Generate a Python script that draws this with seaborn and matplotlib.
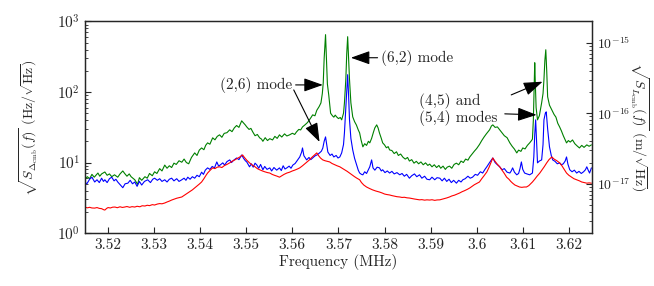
import matplotlib
matplotlib.use("Agg")
import matplotlib.pyplot as plt
import seaborn as sns
from matplotlib.ticker import LogLocator, FixedLocator, NullFormatter

# --- data (frequency in MHz, amplitude in Hz/sqrt(Hz)) ---
freq_green = [3.5149, 3.5155, 3.5160, 3.5165, 3.5170, 3.5178, 3.5182, 3.5186, 3.5193, 3.5198,
              3.5203, 3.5208, 3.5214, 3.5221, 3.5226, 3.5232, 3.5236, 3.5241, 3.5246, 3.5250,
              3.5258, 3.5264, 3.5268, 3.5273, 3.5280, 3.5285, 3.5290, 3.5296, 3.5301, 3.5306,
              3.5312, 3.5317, 3.5323, 3.5328, 3.5333, 3.5338, 3.5343, 3.5348, 3.5354, 3.5360,
              3.5365, 3.5370, 3.5375, 3.5381, 3.5388, 3.5393, 3.5398, 3.5403, 3.5408, 3.5412,
              3.5416, 3.5421, 3.5427, 3.5432, 3.5437, 3.5442, 3.5447, 3.5452, 3.5458, 3.5464,
              3.5469, 3.5474, 3.5479, 3.5484, 3.5490, 3.5494, 3.5498, 3.5501, 3.5506, 3.5510,
              3.5514, 3.5519, 3.5524, 3.5529, 3.5533, 3.5536, 3.5541, 3.5546, 3.5551, 3.5557,
              3.5562, 3.5567, 3.5572, 3.5577, 3.5583, 3.5588, 3.5594, 3.5600, 3.5605, 3.5609,
              3.5614, 3.5618, 3.5622, 3.5628, 3.5633, 3.5637, 3.5641, 3.5644, 3.5649, 3.5653,
              3.5658, 3.5662, 3.5665, 3.5667, 3.5669, 3.5672, 3.5674, 3.5676, 3.5679, 3.5683,
              3.5687, 3.5690, 3.5693, 3.5696, 3.5700, 3.5704, 3.5707, 3.5711, 3.5713, 3.5716,
              3.5718, 3.5720, 3.5722, 3.5724, 3.5727, 3.5731, 3.5735, 3.5739, 3.5743, 3.5746,
              3.5749, 3.5753, 3.5757, 3.5761, 3.5765, 3.5768, 3.5772, 3.5776, 3.5779, 3.5783,
              3.5786, 3.5789, 3.5793, 3.5796, 3.5800, 3.5804, 3.5808, 3.5811, 3.5816, 3.5821,
              3.5826, 3.5830, 3.5835, 3.5840, 3.5845, 3.5850, 3.5854, 3.5859, 3.5864, 3.5869,
              3.5874, 3.5879, 3.5884, 3.5889, 3.5894, 3.5898, 3.5903, 3.5908, 3.5913, 3.5918,
              3.5922, 3.5927, 3.5932, 3.5936, 3.5941, 3.5946, 3.5951, 3.5956, 3.5961, 3.5966,
              3.5971, 3.5976, 3.5981, 3.5985, 3.5990, 3.5995, 3.6000, 3.6006, 3.6011, 3.6016,
              3.6021, 3.6028, 3.6032, 3.6035, 3.6040, 3.6045, 3.6050, 3.6055, 3.6060, 3.6066,
              3.6072, 3.6077, 3.6082, 3.6087, 3.6091, 3.6096, 3.6100, 3.6105, 3.6110, 3.6115,
              3.6119, 3.6121, 3.6123, 3.6125, 3.6126, 3.6127, 3.6129, 3.6132, 3.6136, 3.6141,
              3.6144, 3.6146, 3.6148, 3.6150, 3.6152, 3.6154, 3.6158, 3.6163, 3.6168, 3.6172,
              3.6176, 3.6180, 3.6184, 3.6188, 3.6192, 3.6195, 3.6199, 3.6203, 3.6208, 3.6213,
              3.6218, 3.6223, 3.6228, 3.6233, 3.6239, 3.6244, 3.6249]
psd_green = [5.7, 6.3, 5.9, 6.8, 6.2, 7.1, 6.4, 6.9, 7.35, 6.6,
             6.9, 6.3, 6.7, 6.2, 6.9, 7.6, 7.0, 6.4, 6.9, 6.3,
             5.7, 4.9, 6.1, 5.6, 6.3, 6.0, 7.0, 6.5, 7.4, 7.0,
             8.2, 7.6, 9.2, 8.3, 9.0, 8.5, 9.8, 9.4, 10.6, 10.1,
             11.2, 10.0, 9.6, 11.8, 13.7, 12.6, 15.0, 16.1, 15.2, 17.6,
             19.0, 18.2, 22.4, 21.0, 23.5, 24.7, 22.8, 25.9, 26.5, 29.1,
             27.4, 31.0, 33.5, 31.5, 39.0, 36.5, 34.0, 32.0, 29.5, 30.5,
             27.2, 24.0, 25.0, 22.4, 21.5, 20.0, 22.5, 20.5, 21.8, 20.9,
             23.5, 22.0, 24.7, 23.0, 25.5, 23.8, 24.7, 26.0, 25.0, 27.2,
             29.5, 29.0, 32.0, 34.5, 37.0, 40.3, 44.0, 47.4, 46.0, 55.0,
             62.0, 70.0, 95, 135, 300, 650, 300, 130, 90, 50,
             46, 44, 47, 44.4, 42, 43.5, 40.3, 50, 70, 150,
             350, 608, 300, 150, 70.3, 44.4, 38, 34, 29, 26.3,
             21, 16.7, 18.5, 17.5, 20.0, 19.0, 22, 27, 31, 34.2,
             31, 26.3, 22, 19.0, 17.8, 16.2, 16.8, 15.1, 14.8, 13.4,
             14.2, 12.6, 13.2, 11.9, 11.2, 11.8, 10.5, 11.0, 9.8, 10.4,
             9.6, 10.2, 9.3, 9.9, 9.1, 9.5, 8.7, 9.3, 8.5, 9.1,
             8.3, 8.9, 8.0, 8.6, 8.9, 8.3, 9.4, 9.8, 9.3, 10.5,
             10.0, 11.2, 10.8, 12.0, 13.2, 14.5, 15.8, 18.0, 20.5, 23.0,
             25.5, 29.1, 33.0, 34.2, 31.5, 32.0, 29.1, 26.5, 24.0, 22.5,
             19.0, 17.0, 15.5, 13.7, 15.0, 14.4, 16.1, 15.6, 17.5, 19.0,
             20.5, 21.5, 40, 150, 260, 150, 60, 40.3, 46, 70.3,
             95, 150, 280, 397, 200, 85.5, 65, 56.0, 48, 44,
             36, 32.0, 28, 24, 21, 19.0, 20.5, 19.5, 20.9, 18.5,
             17.2, 16.1, 17.5, 16.4, 17.8, 17.0, 17.8]

freq_blue = [3.5149, 3.5154, 3.5160, 3.5165, 3.5171, 3.5176, 3.5181, 3.5186, 3.5190, 3.5193,
             3.5198, 3.5203, 3.5208, 3.5213, 3.5217, 3.5221, 3.5227, 3.5232, 3.5237, 3.5243,
             3.5248, 3.5253, 3.5258, 3.5263, 3.5268, 3.5273, 3.5279, 3.5286, 3.5292, 3.5297,
             3.5301, 3.5307, 3.5312, 3.5317, 3.5323, 3.5328, 3.5333, 3.5338, 3.5343, 3.5349,
             3.5354, 3.5360, 3.5365, 3.5369, 3.5373, 3.5378, 3.5383, 3.5388, 3.5393, 3.5398,
             3.5403, 3.5407, 3.5411, 3.5416, 3.5421, 3.5426, 3.5431, 3.5436, 3.5440, 3.5444,
             3.5449, 3.5453, 3.5458, 3.5464, 3.5468, 3.5472, 3.5479, 3.5484, 3.5490, 3.5494,
             3.5498, 3.5501, 3.5505, 3.5507, 3.5511, 3.5515, 3.5519, 3.5523, 3.5527, 3.5531,
             3.5536, 3.5540, 3.5545, 3.5551, 3.5555, 3.5560, 3.5566, 3.5572, 3.5576, 3.5580,
             3.5584, 3.5588, 3.5593, 3.5597, 3.5601, 3.5606, 3.5611, 3.5616, 3.5620, 3.5622,
             3.5625, 3.5631, 3.5636, 3.5640, 3.5644, 3.5649, 3.5654, 3.5659, 3.5663, 3.5666,
             3.5669, 3.5672, 3.5675, 3.5677, 3.5682, 3.5686, 3.5690, 3.5695, 3.5699, 3.5703,
             3.5707, 3.5711, 3.5713, 3.5715, 3.5717, 3.5720, 3.5722, 3.5724, 3.5727, 3.5731,
             3.5735, 3.5740, 3.5743, 3.5746, 3.5750, 3.5753, 3.5757, 3.5761, 3.5765, 3.5768,
             3.5770, 3.5772, 3.5775, 3.5779, 3.5784, 3.5789, 3.5793, 3.5796, 3.5801, 3.5806,
             3.5811, 3.5816, 3.5821, 3.5827, 3.5833, 3.5838, 3.5843, 3.5848, 3.5854, 3.5859,
             3.5865, 3.5870, 3.5876, 3.5881, 3.5887, 3.5892, 3.5898, 3.5903, 3.5909, 3.5914,
             3.5920, 3.5925, 3.5930, 3.5935, 3.5940, 3.5945, 3.5950, 3.5956, 3.5961, 3.5966,
             3.5970, 3.5975, 3.5981, 3.5986, 3.5991, 3.5997, 3.6002, 3.6008, 3.6013, 3.6018,
             3.6022, 3.6028, 3.6035, 3.6040, 3.6045, 3.6050, 3.6055, 3.6060, 3.6066, 3.6072,
             3.6075, 3.6078, 3.6082, 3.6087, 3.6091, 3.6094, 3.6097, 3.6100, 3.6104, 3.6109,
             3.6115, 3.6118, 3.6121, 3.6124, 3.6126, 3.6128, 3.6130, 3.6132, 3.6136, 3.6141,
             3.6144, 3.6146, 3.6149, 3.6151, 3.6154, 3.6158, 3.6162, 3.6165, 3.6170, 3.6175,
             3.6180, 3.6184, 3.6188, 3.6192, 3.6195, 3.6198, 3.6202, 3.6207, 3.6212, 3.6217,
             3.6222, 3.6227, 3.6232, 3.6236, 3.6239, 3.6242, 3.6245, 3.6249]
psd_blue = [5.3, 5.0, 5.8, 6.2, 5.3, 5.7, 5.2, 6.0, 5.4, 5.7,
            5.2, 5.9, 6.2, 5.5, 5.8, 5.3, 4.8, 4.4, 5.0, 5.1,
            5.6, 5.0, 5.3, 4.6, 5.4, 4.8, 5.4, 5.7, 5.2, 5.8,
            6.0, 5.6, 5.9, 5.4, 5.7, 5.3, 5.8, 6.0, 5.5, 5.9,
            5.4, 5.7, 6.0, 5.6, 6.2, 5.8, 6.3, 6.0, 6.6, 6.3,
            7.3, 6.8, 7.8, 8.4, 8.0, 8.8, 8.4, 10.2, 8.9, 9.3,
            9.9, 9.2, 10.3, 10.9, 10.0, 10.7, 11.6, 11.0, 12.8, 11.5,
            10.6, 10.2, 9.2, 8.7, 9.6, 8.6, 9.8, 9.2, 8.3, 9.4,
            7.9, 8.8, 8.0, 8.4, 7.6, 8.5, 7.8, 8.4, 7.7, 9.0,
            8.1, 8.4, 8.9, 8.3, 9.2, 9.7, 10.8, 12.0, 14.0, 16.1,
            12.5, 10.9, 11.8, 11.0, 11.6, 12.4, 12.9, 13.7, 14.5, 16.0,
            20.0, 23.1, 17.0, 14.1, 12.6, 13.2, 12.0, 12.6, 11.6, 12.0,
            13.7, 18.0, 26.3, 45, 80, 176, 90, 40.3, 22, 15.1,
            11.5, 9.0, 7.8, 7.1, 6.8, 6.7, 7.4, 7.0, 7.9, 8.7,
            9.8, 10.9, 8.4, 7.8, 8.6, 8.4, 7.6, 7.9, 7.2, 7.6,
            7.1, 7.5, 6.9, 7.2, 6.7, 7.0, 6.4, 6.8, 6.0, 6.5,
            6.9, 6.3, 6.7, 6.0, 6.4, 5.8, 5.7, 6.2, 5.7, 6.1,
            6.0, 5.5, 6.0, 5.4, 5.8, 5.2, 5.6, 5.1, 5.6, 5.3,
            5.7, 5.9, 6.4, 6.0, 6.2, 6.8, 6.6, 7.4, 7.1, 8.0,
            8.7, 10.0, 11.6, 10.0, 9.3, 8.7, 7.9, 8.2, 7.3, 7.1,
            7.6, 8.4, 7.3, 6.7, 7.0, 8.2, 10.2, 8.0, 7.1, 6.9,
            6.7, 6.9, 7.1, 12, 25, 40.3, 20, 9.9, 10.5, 10.9,
            18, 40.3, 50, 52.3, 30, 16.7, 12.5, 10.9, 10.4, 9.6,
            9.9, 9.3, 9.6, 10.5, 12.0, 9.5, 7.9, 7.4, 7.8, 7.1,
            7.5, 7.0, 7.4, 7.9, 8.7, 7.8, 7.1, 8.4]

freq_red = [3.5149, 3.5155, 3.5160, 3.5165, 3.5171, 3.5176, 3.5181, 3.5186, 3.5190, 3.5193,
            3.5197, 3.5200, 3.5205, 3.5210, 3.5215, 3.5220, 3.5226, 3.5231, 3.5236, 3.5241,
            3.5247, 3.5252, 3.5258, 3.5263, 3.5269, 3.5274, 3.5280, 3.5285, 3.5290, 3.5296,
            3.5301, 3.5307, 3.5312, 3.5317, 3.5323, 3.5328, 3.5333, 3.5338, 3.5343, 3.5349,
            3.5354, 3.5360, 3.5365, 3.5369, 3.5373, 3.5378, 3.5383, 3.5388, 3.5393, 3.5398,
            3.5403, 3.5408, 3.5412, 3.5416, 3.5421, 3.5427, 3.5432, 3.5437, 3.5442, 3.5447,
            3.5453, 3.5458, 3.5464, 3.5469, 3.5475, 3.5481, 3.5486, 3.5492, 3.5496, 3.5501,
            3.5507, 3.5512, 3.5518, 3.5524, 3.5529, 3.5535, 3.5540, 3.5546, 3.5551, 3.5556,
            3.5561, 3.5567, 3.5572, 3.5577, 3.5582, 3.5588, 3.5594, 3.5600, 3.5605, 3.5611,
            3.5616, 3.5622, 3.5627, 3.5632, 3.5637, 3.5642, 3.5648, 3.5653, 3.5657, 3.5661,
            3.5666, 3.5671, 3.5676, 3.5681, 3.5686, 3.5692, 3.5697, 3.5703, 3.5708, 3.5713,
            3.5719, 3.5724, 3.5729, 3.5735, 3.5740, 3.5746, 3.5750, 3.5755, 3.5761, 3.5767,
            3.5774, 3.5781, 3.5789, 3.5795, 3.5800, 3.5805, 3.5811, 3.5816, 3.5822, 3.5827,
            3.5833, 3.5838, 3.5843, 3.5849, 3.5854, 3.5860, 3.5865, 3.5870, 3.5876, 3.5881,
            3.5887, 3.5892, 3.5898, 3.5903, 3.5909, 3.5914, 3.5920, 3.5925, 3.5930, 3.5935,
            3.5941, 3.5946, 3.5952, 3.5957, 3.5963, 3.5968, 3.5974, 3.5980, 3.5985, 3.5990,
            3.5995, 3.6000, 3.6006, 3.6011, 3.6016, 3.6022, 3.6027, 3.6031, 3.6035, 3.6039,
            3.6044, 3.6050, 3.6055, 3.6060, 3.6065, 3.6070, 3.6074, 3.6078, 3.6083, 3.6088,
            3.6093, 3.6098, 3.6103, 3.6108, 3.6113, 3.6117, 3.6121, 3.6126, 3.6131, 3.6137,
            3.6142, 3.6147, 3.6152, 3.6157, 3.6163, 3.6168, 3.6174, 3.6180, 3.6185, 3.6190,
            3.6195, 3.6200, 3.6206, 3.6211, 3.6217, 3.6223, 3.6228, 3.6234, 3.6239, 3.6244,
            3.6249]
psd_red = [2.34, 2.28, 2.32, 2.27, 2.26, 2.30, 2.24, 2.22, 2.15, 2.12,
           2.24, 2.30, 2.27, 2.33, 2.34, 2.29, 2.36, 2.31, 2.34, 2.38,
           2.32, 2.37, 2.34, 2.40, 2.36, 2.44, 2.42, 2.48, 2.45, 2.53,
           2.50, 2.58, 2.62, 2.60, 2.67, 2.76, 2.84, 2.94, 3.02, 3.12,
           3.18, 3.25, 3.42, 3.55, 3.70, 3.92, 4.10, 4.36, 4.65, 4.95,
           5.30, 5.9, 6.5, 7.1, 7.7, 8.4, 8.2, 8.6, 8.7, 8.5,
           9.1, 9.4, 9.9, 10.4, 10.9, 11.5, 12.0, 12.8, 11.8, 10.8,
           9.9, 9.3, 8.8, 8.2, 7.9, 7.6, 7.4, 7.2, 7.1, 6.8,
           6.6, 6.4, 6.2, 6.5, 6.8, 7.1, 7.3, 7.6, 7.8, 8.1,
           8.4, 9.0, 9.6, 10.2, 10.9, 11.8, 12.8, 13.7, 12.5, 11.6,
           10.9, 10.6, 10.4, 10.2, 9.7, 9.3, 9.0, 8.7, 8.3, 7.9,
           7.5, 7.1, 6.7, 6.3, 6.0, 5.7, 5.2, 4.8, 4.5, 4.3,
           4.1, 3.95, 3.82, 3.70, 3.58, 3.52, 3.47, 3.40, 3.34, 3.28,
           3.25, 3.20, 3.22, 3.16, 3.14, 3.08, 3.04, 3.00, 2.96, 2.98,
           2.93, 2.96, 2.94, 2.97, 2.91, 2.95, 2.96, 3.02, 3.08, 3.15,
           3.25, 3.36, 3.45, 3.56, 3.70, 3.85, 4.00, 4.18, 4.36, 4.60,
           4.85, 5.05, 5.30, 5.90, 6.50, 7.35, 8.6, 10.0, 11.6, 10.6,
           9.6, 8.7, 7.8, 7.0, 6.2, 5.8, 5.4, 5.1, 4.8, 4.65,
           4.50, 4.45, 4.50, 4.50, 4.70, 5.00, 5.30, 5.80, 6.40, 7.10,
           7.90, 8.80, 9.90, 11.0, 12.0, 11.2, 10.6, 9.9, 9.0, 8.0,
           7.1, 6.6, 6.2, 5.9, 5.7, 5.5, 5.3, 5.2, 5.1, 5.15,
           5.1]

x_ticks = [3.52, 3.53, 3.54, 3.55, 3.56, 3.57, 3.58, 3.59, 3.6, 3.61, 3.62]
x_tick_labels = ["3.52", "3.53", "3.54", "3.55", "3.56", "3.57", "3.58", "3.59", "3.6", "3.61", "3.62"]
right_ticks = [1e-17, 1e-16, 1e-15]
HZ_TO_M = 2.0e-18   # conversion Hz/sqrt(Hz) -> m/sqrt(Hz) for the right axis

sns.set_style("ticks")
plt.rcParams["font.family"] = "serif"
plt.rcParams["font.serif"] = ["cmr10", "DejaVu Serif"]
plt.rcParams["mathtext.fontset"] = "cm"
plt.rcParams["axes.formatter.use_mathtext"] = True
plt.rcParams["axes.unicode_minus"] = False

ink = "#262626"
fig = plt.figure(figsize=(6.54, 2.86), dpi=100)
ax = fig.add_axes([0.130, 0.185, 0.775, 0.740])

sns.lineplot(x=freq_green, y=psd_green, color="#008000", lw=0.8, ax=ax, estimator=None)
sns.lineplot(x=freq_blue, y=psd_blue, color="#0000ff", lw=0.8, ax=ax, estimator=None)
sns.lineplot(x=freq_red, y=psd_red, color="#ff0000", lw=0.8, ax=ax, estimator=None)

ax.set_yscale("log")
ax.set_xlim(3.515, 3.625)
ax.set_ylim(1, 1000)
ax.xaxis.set_major_locator(FixedLocator(x_ticks))
ax.set_xticklabels(x_tick_labels)
ax.yaxis.set_minor_locator(LogLocator(base=10, subs=range(2, 10)))
ax.yaxis.set_minor_formatter(NullFormatter())
ax.tick_params(direction="in", which="both", colors=ink, labelsize=11)
ax.tick_params(which="major", length=4)
ax.tick_params(which="minor", length=2)
ax.set_xlabel("Frequency (MHz)", fontsize=11, color=ink, labelpad=2)
ax.set_ylabel(r"$\sqrt{S_{\Delta_{\rm cmb}}(f)}$ (Hz/$\sqrt{\rm Hz}$)", fontsize=10, color=ink)
ax.yaxis.set_label_coords(-0.089, 0.5)
for s in ax.spines.values():
    s.set_color(ink)
    s.set_linewidth(0.9)

ax2 = ax.twinx()
ax2.set_yscale("log")
ax2.set_ylim(1 * HZ_TO_M, 1000 * HZ_TO_M)
ax2.yaxis.set_major_locator(FixedLocator(right_ticks))
ax2.yaxis.set_minor_locator(LogLocator(base=10, subs=range(2, 10)))
ax2.yaxis.set_minor_formatter(NullFormatter())
ax2.tick_params(direction="in", which="both", colors=ink, labelsize=10)
ax2.tick_params(which="major", length=4)
ax2.tick_params(which="minor", length=2)
ax2.set_ylabel(r"$\sqrt{S_{L_{\rm cmb}}(f)}$ (m/$\sqrt{\rm Hz}$)", fontsize=10, color=ink,
               rotation=-90, va="center")
ax2.yaxis.set_label_coords(1.093, 0.5)
for s in ax2.spines.values():
    s.set_color(ink)
    s.set_linewidth(0.9)

arrow = dict(arrowstyle="-|>,head_length=0.9,head_width=0.32", color="black", lw=0.8,
             shrinkA=0, shrinkB=0, mutation_scale=13)

# (6,2) mode
ax.annotate("(6,2) mode", xy=(3.5727, 306), xytext=(3.5792, 306), fontsize=11, color=ink,
            ha="left", va="center", arrowprops=arrow)
# (2,6) mode, two arrows
ax.annotate("(2,6) mode", xy=(3.5666, 126), xytext=(3.5600, 126), fontsize=11, color=ink,
            ha="right", va="center", arrowprops=arrow)
ax.annotate("", xy=(3.5659, 19.6), xytext=(3.5603, 107), arrowprops=arrow)
# (4,5) and (5,4) modes
ax.text(3.5874, 56, "(4,5) and\n(5,4) modes", fontsize=11, color=ink, ha="left", va="center",
        linespacing=1.1)
ax.annotate("", xy=(3.6143, 140), xytext=(3.6075, 91), arrowprops=arrow)
ax.annotate("", xy=(3.6130, 47.4), xytext=(3.6061, 49), arrowprops=arrow)

fig.savefig("out.png", dpi=100)
